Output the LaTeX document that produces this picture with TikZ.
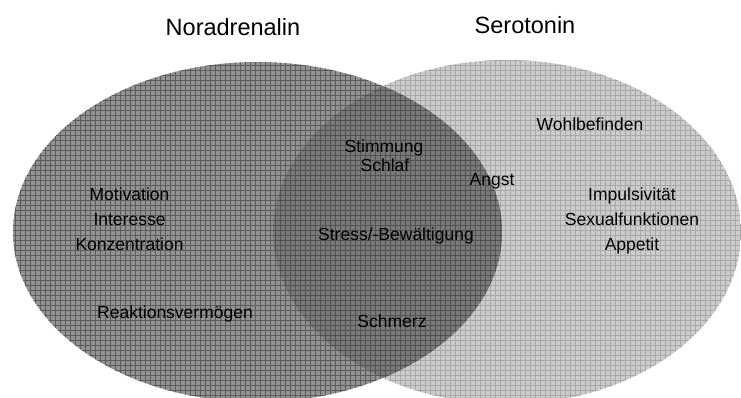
\documentclass[tikz,border=0pt]{standalone}
\usepackage{fontspec}
\setmainfont{Liberation Sans}
\definecolor{leftfill}{RGB}{146,146,146}
\definecolor{leftline}{RGB}{92,92,92}
\definecolor{rightfill}{RGB}{204,204,204}
\definecolor{rightline}{RGB}{168,168,168}
\definecolor{midfill}{RGB}{122,122,122}
\definecolor{midline}{RGB}{82,82,82}
\tikzset{
  lbl/.style={anchor=base, inner sep=0pt, font=\fontsize{17.5}{20}\selectfont, text=black},
  ttl/.style={anchor=base, inner sep=0pt, font=\fontsize{23.5}{26}\selectfont, text=black},
}
\begin{document}
\begin{tikzpicture}[x=1pt,y=-1pt]
\useasboundingbox (0,0) rectangle (741,397);
\fill[white] (0,0) rectangle (741,397);
\begin{scope}
  \clip (0,0) rectangle (741,397);
  % right ellipse (Serotonin)
  \begin{scope}
    \clip (507,232) ellipse [x radius=234, y radius=172];
    \fill[rightfill] (260,50) rectangle (745,400);
    \draw[rightline, line width=0.6pt, step=5pt] (260,50) grid (745,400);
  \end{scope}
  % left ellipse (Noradrenalin)
  \begin{scope}
    \clip (257.5,232) ellipse [x radius=244.5, y radius=170];
    \fill[leftfill] (0,50) rectangle (510,400);
    \draw[leftline, line width=0.6pt, step=5pt] (0,50) grid (510,400);
  \end{scope}
  % intersection
  \begin{scope}
    \clip (507,232) ellipse [x radius=234, y radius=172];
    \clip (257.5,232) ellipse [x radius=244.5, y radius=170];
    \fill[midfill] (260,50) rectangle (510,400);
    \draw[midline, line width=0.6pt, step=5pt] (260,50) grid (510,400);
  \end{scope}
\end{scope}
% titles
\node[ttl] (nor) at (233,35) {Noradrenalin};
\node[ttl] (ser) at (525,33) {Serotonin};
% left only
\node[lbl] (mot) at (129.5,200) {Motivation};
\node[lbl] (int) at (129.5,225) {Interesse};
\node[lbl] (kon) at (129.5,250) {Konzentration};
\node[lbl] (rea) at (175,318) {Reaktionsvermögen};
% intersection
\node[lbl] (sti) at (384,152) {Stimmung};
\node[lbl] (sch) at (385,171) {Schlaf};
\node[lbl] (ang) at (492,185) {Angst};
\node[lbl] (str) at (396,240) {Stress/-Bewältigung};
\node[lbl] (smz) at (392,327) {Schmerz};
% right only
\node[lbl] (woh) at (590,130) {Wohlbefinden};
\node[lbl] (imp) at (632,200) {Impulsivität};
\node[lbl] (sex) at (632,225) {Sexualfunktionen};
\node[lbl] (app) at (632,250) {Appetit};
\end{tikzpicture}
\end{document}
